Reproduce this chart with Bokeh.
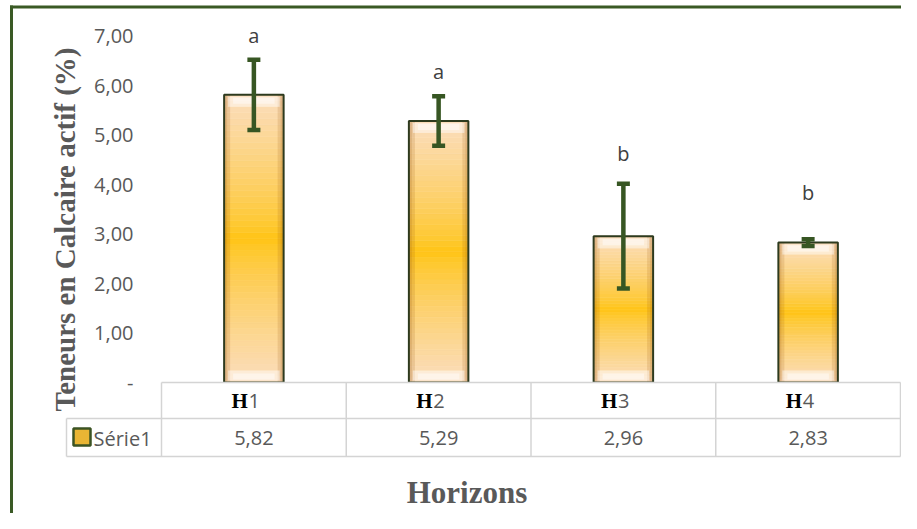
import numpy as np
from bokeh.plotting import figure
from bokeh.models import Range1d, FixedTicker
from bokeh.core.properties import value
from bokeh.embed import file_html
from bokeh.resources import INLINE

# ---------------- data ----------------
categories = ["H1", "H2", "H3", "H4"]
header_letter = ["H", "H", "H", "H"]
header_digit = ["1", "2", "3", "4"]
means = [5.82, 5.29, 2.96, 2.83]
errors = [0.71, 0.50, 1.06, 0.07]
signif = ["a", "a", "b", "b"]
signif_y = [7.03, 6.29, 4.63, 3.84]
y_ticks = [0, 1, 2, 3, 4, 5, 6, 7]
y_tick_labels = ["-", "1,00", "2,00", "3,00", "4,00", "5,00", "6,00", "7,00"]
series_name = "Série1"
x_title = "Horizons"
y_title = "Teneurs en Calcaire actif (%)"

value_labels = [f"{m:.2f}".replace(".", ",") for m in means]

# ---------------- layout (pixels, canvas coords) ----------------
W, H = 901, 513
FL, FR, FT, FB = 161, 900, 15, 382
PX_PER_UNIT = 49.43
y_end = (FB - FT) / PX_PER_UNIT
COLW = (FR - FL) / len(categories)
UNIT_X = COLW  # px per x unit
BW = 0.322

GRAY = "#595959"
DKGREEN = "#375623"
TABLE = "#d4d4d4"

p = figure(width=W, height=H, x_range=Range1d(0, len(categories)),
           y_range=Range1d(0, y_end), output_backend="svg",
           toolbar_location=None, x_axis_location=None,
           min_border_left=FL, min_border_right=W - FR,
           min_border_top=FT, min_border_bottom=H - FB,
           outline_line_color=None, background_fill_color="white",
           border_fill_color="white")
p.grid.visible = False
p.extra_x_ranges = {"px": Range1d(FL, FR)}
p.extra_y_ranges = {"px": Range1d(FB, FT)}

ax = p.yaxis[0]
ax.ticker = FixedTicker(ticks=y_ticks)
ax.major_label_overrides = {t: l for t, l in zip(y_ticks, y_tick_labels)}
ax.axis_line_color = None
ax.major_tick_line_color = None
ax.minor_tick_line_color = None
ax.major_tick_out = 0
ax.major_tick_in = 0
ax.major_label_standoff = 28
ax.major_label_text_font = "Open Sans"
ax.major_label_text_font_size = "20px"
ax.major_label_text_color = GRAY

xc = np.arange(len(categories)) + 0.5
vals = np.array(means)
errs = np.array(errors)

# ---------------- bars with gradient ----------------
gold = np.array([255, 196, 18])
peach = np.array([251, 221, 190])
N = 48
sx, sb, st, sc = [], [], [], []
for i, v in enumerate(vals):
    for k in range(N):
        f = (k + 0.5) / N
        d = abs(f - 0.5) * 2
        c = gold + (peach - gold) * (d ** 0.75)
        sx.append(xc[i]); sb.append(v * k / N); st.append(v * (k + 1) / N)
        sc.append("#%02x%02x%02x" % tuple(int(round(t)) for t in c))
p.vbar(x=sx, bottom=sb, top=st, width=BW, fill_color=sc, line_color=sc, line_width=0.6)

# side shading
for wpx, alpha in [(6, 0.16), (3, 0.16)]:
    dw = wpx / UNIT_X
    p.vbar(x=xc - BW / 2 + dw / 2, bottom=0, top=vals, width=dw,
           fill_color="#9a5a10", fill_alpha=alpha, line_color=None)
    p.vbar(x=xc + BW / 2 - dw / 2, bottom=0, top=vals, width=dw,
           fill_color="#9a5a10", fill_alpha=alpha, line_color=None)

# bevel highlights
pu = 1 / PX_PER_UNIT
for inset, a0, a1, alpha in [(4, 2, 12, 0.45), (9, 3, 9, 0.45)]:
    p.vbar(x=xc, top=vals - a0 * pu, bottom=vals - a1 * pu, width=BW - 2 * inset / UNIT_X,
           fill_color="white", fill_alpha=alpha, line_color=None)
    p.vbar(x=xc, bottom=np.full(4, a0 * pu), top=np.full(4, a1 * pu), width=BW - 2 * inset / UNIT_X,
           fill_color="white", fill_alpha=alpha, line_color=None)

p.vbar(x=xc, bottom=0, top=vals, width=BW, fill_color=None,
       line_color="#2d3a1e", line_width=2)

# ---------------- error bars ----------------
lo = vals - errs
hi = vals + errs
p.segment(x0=xc, y0=lo, x1=xc, y1=hi, line_color=DKGREEN, line_width=4.5)
p.scatter(x=xc, y=hi, marker="dash", size=13, line_color=DKGREEN, line_width=4.5)
p.scatter(x=xc, y=lo, marker="dash", size=13, line_color=DKGREEN, line_width=4.5)

p.text(x=xc, y=signif_y, text=signif, text_align="center", text_baseline="middle",
       text_font=value("Open Sans"), text_font_size="20px", text_color="#404040")

# ---------------- data table (pixel coordinates) ----------------
R = dict(x_range_name="px", y_range_name="px", level="overlay")
ROW0, ROW1, ROW2 = FB, 418, 456
LEFTCOL = 66
bounds = [FL + i * COLW for i in range(len(categories) + 1)]
hx0 = [FL, LEFTCOL, LEFTCOL]
hx1 = [FR, FR, FR]
hy = [ROW0, ROW1, ROW2]
p.segment(x0=hx0, y0=hy, x1=hx1, y1=hy, line_color=TABLE, line_width=1.5, **R)
vx = bounds + [LEFTCOL]
vy0 = [ROW0] * len(bounds) + [ROW1]
p.segment(x0=vx, y0=vy0, x1=vx, y1=[ROW2] * len(vx), line_color=TABLE, line_width=1.5, **R)

centers = [FL + (i + 0.5) * COLW for i in range(len(categories))]
HDR_Y, VAL_Y = 400, 437.5
p.text(x=centers, y=[HDR_Y] * 4, text=header_letter, text_align="right",
       text_baseline="middle", x_offset=-6, text_font=value("Liberation Serif"),
       text_font_style="bold", text_font_size="21px", text_color="black", **R)
p.text(x=centers, y=[HDR_Y] * 4, text=header_digit, text_align="left",
       text_baseline="middle", x_offset=-5.5, text_font=value("Open Sans"),
       text_font_size="20px", text_color=GRAY, **R)
p.text(x=centers, y=[VAL_Y] * 4, text=value_labels, text_align="center",
       text_baseline="middle", text_font=value("Open Sans"),
       text_font_size="20px", text_color=GRAY, **R)
p.text(x=[93], y=[VAL_Y], text=[series_name], text_align="left",
       text_baseline="middle", text_font=value("Open Sans"),
       text_font_size="20px", text_color=GRAY, **R)
p.quad(left=[73], right=[90], top=[428], bottom=[445], fill_color="#e9b534",
       line_color="#3b5323", line_width=2.5, **R)

# ---------------- titles ----------------
p.text(x=[466.5], y=[492], text=[x_title], text_align="center", text_baseline="middle",
       text_font=value("Liberation Serif"), text_font_style="bold",
       text_font_size="31px", text_color=GRAY, **R)
p.text(x=[64], y=[229], text=[y_title], angle=np.pi / 2, text_align="center",
       text_baseline="middle", text_font=value("Liberation Serif"), text_font_style="bold",
       text_font_size="29px", text_color=GRAY, **R)

# ---------------- outer chart border ----------------
p.segment(x0=[11, 9.5], y0=[5, 6.5], x1=[11, W], y1=[H, 6.5], line_color="#3a5a25",
          line_width=3, **R)

open("out.html", "w").write(file_html(p, INLINE))
